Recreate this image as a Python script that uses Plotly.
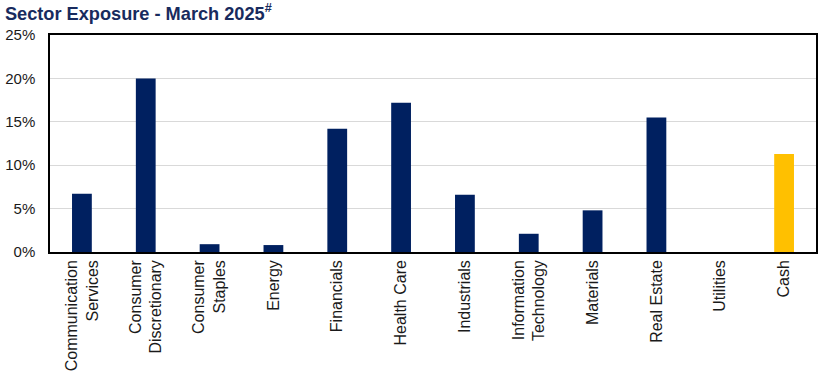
import plotly.graph_objects as go

categories = ["Communication<br>Services", "Consumer<br>Discretionary", "Consumer<br>Staples",
              "Energy", "Financials", "Health Care", "Industrials", "Information<br>Technology",
              "Materials", "Real Estate", "Utilities", "Cash"]
values = [6.7, 20.0, 0.9, 0.8, 14.2, 17.2, 6.6, 2.1, 4.8, 15.5, 0.0, 11.3]
colors = ["#002060"] * 11 + ["#FFC000"]
y_ticks = [0, 5, 10, 15, 20, 25]
y_tick_labels = ["0%", "5%", "10%", "15%", "20%", "25%"]

fig = go.Figure(go.Bar(x=categories, y=values, marker=dict(color=colors, line=dict(width=0)),
                       width=0.31))

fig.update_layout(
    width=820, height=373,
    margin=dict(l=50, r=4, t=35, b=121, autoexpand=False),
    paper_bgcolor="white", plot_bgcolor="white",
    font=dict(family="Liberation Sans, Arial, sans-serif", size=15, color="#1a1a1a"),
    title=dict(text="<b>Sector Exposure - March 2025<sup>#</sup></b>", x=0.006, xanchor="left",
               y=0.964, yanchor="middle",
               font=dict(family="Liberation Sans, Arial, sans-serif", size=18.2, color="#182B5E")),
    showlegend=False,
)
fig.update_xaxes(tickangle=-90, showline=True, linecolor="black", linewidth=1.5, mirror=True,
                 ticks="", showgrid=False, tickfont=dict(size=16), automargin=False)
fig.update_yaxes(range=[0, 25], tickvals=y_ticks, ticktext=y_tick_labels, showline=True,
                 linecolor="black", linewidth=1.5, mirror=True, gridcolor="#D9D9D9", gridwidth=1,
                 ticks="", zeroline=False, tickfont=dict(size=15), automargin=False,
                 ticklabelstandoff=10)

fig.write_html("out.html", config={"displayModeBar": False},
               post_script="document.body.style.margin='0px';")
